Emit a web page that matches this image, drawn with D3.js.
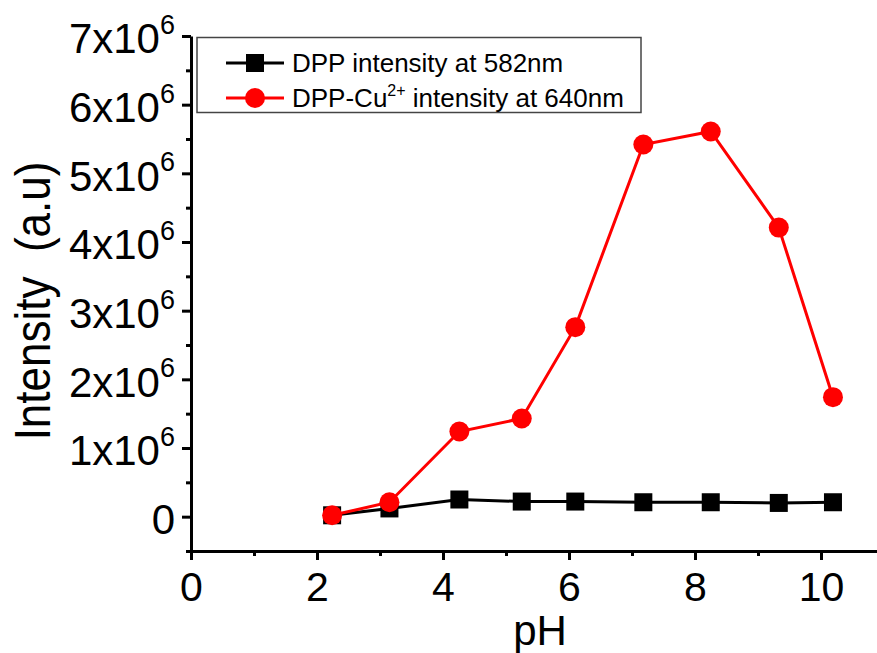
<!DOCTYPE html>
<html>
<head>
<meta charset="utf-8">
<script src="https://cdn.jsdelivr.net/npm/d3@7"></script>
<style>
  body { margin: 0; background: #fff; }
  svg { display: block; font-family: Arial, "Liberation Sans", sans-serif; }
</style>
</head>
<body>
<svg id="chart" width="877" height="653"></svg>
<script>
// pH values and intensities
const ph = [2.24, 3.15, 4.26, 5.25, 6.10, 7.18, 8.25, 9.33, 10.19];
const dppIntensity = [0.02e6, 0.12e6, 0.25e6, 0.22e6, 0.22e6, 0.21e6, 0.21e6, 0.20e6, 0.21e6];
const cuIntensity = [0.02e6, 0.21e6, 1.24e6, 1.43e6, 2.76e6, 5.42e6, 5.61e6, 4.21e6, 1.74e6];

const xTicks = [0, 2, 4, 6, 8, 10];
const xMinor = [1, 3, 5, 7, 9];
const yTicks = [0, 1e6, 2e6, 3e6, 4e6, 5e6, 6e6, 7e6];
const yMinor = [-0.5e6, 0.5e6, 1.5e6, 2.5e6, 3.5e6, 4.5e6, 5.5e6, 6.5e6];
const legendLabels = ['DPP intensity at 582nm', 'DPP-Cu'];

const svg = d3.select('#chart');

let x = d3.scaleLinear().domain([0, 11]).range([191, 884]),
  y = d3.scaleLinear().domain([-0.5e6, 7e6]).range([551, 36]);

// minor ticks first, majors on top
svg.append('g')
  .attr('transform', 'translate(0,551)')
  .call(d3.axisBottom(x).tickValues(xMinor).tickSize(5).tickFormat(''))
  .call(g => g.select('.domain').remove())
  .call(g => g.selectAll('line').attr('stroke', '#000').attr('stroke-width', 3));

svg.append('g')
  .attr('transform', 'translate(191,0)')
  .call(d3.axisLeft(y).tickValues(yMinor).tickSize(5).tickFormat(''))
  .call(g => g.select('.domain').remove())
  .call(g => g.selectAll('line').attr('stroke', '#000').attr('stroke-width', 3));

let xAxis = svg.append('g')
  .attr('transform', 'translate(0,551)')
  .call(d3.axisBottom(x).tickValues(xTicks).tickSize(9).tickSizeOuter(0).tickPadding(12));

xAxis.select('.domain').attr('stroke', '#000').attr('stroke-width', 3);
xAxis.selectAll('line').attr('stroke', '#000').attr('stroke-width', 3);
xAxis.selectAll('text')
  .attr('font-size', 41)
  .attr('font-family', 'Arial, "Liberation Sans", sans-serif')
  .attr('fill', '#000');

let yAxis = svg.append('g')
  .attr('transform', 'translate(191,0)')
  .call(d3.axisLeft(y).tickValues(yTicks).tickSize(9).tickSizeOuter(0).tickPadding(7));

yAxis.select('.domain').attr('stroke', '#000').attr('stroke-width', 3);
yAxis.selectAll('line').attr('stroke', '#000').attr('stroke-width', 3);
yAxis.selectAll('text')
  .attr('font-size', 42)
  .attr('font-family', 'Arial, "Liberation Sans", sans-serif')
  .attr('fill', '#000')
  .attr('dy', '0.4em')
  .each(function (d) {
    let t = d3.select(this).text(null);
    if (d === 0) {
      t.text('0');
      return;
    }
    t.append('tspan').text(`${d / 1e6}x10`);
    t.append('tspan').attr('font-size', 27).attr('dy', '-0.72em').text('6');
  });

// axis titles
svg.append('text')
  .attr('x', 540).attr('y', 645)
  .attr('text-anchor', 'middle')
  .attr('font-size', 42)
  .text('pH');

svg.append('text')
  .attr('transform', 'translate(50,301) rotate(-90) scale(1,1.12)')
  .attr('text-anchor', 'middle')
  .attr('font-size', 44)
  .attr('xml:space', 'preserve')
  .style('white-space', 'pre')
  .text('Intensity  (a.u)');

// series
let line = d3.line().x(d => x(d[0])).y(d => y(d[1]));
let dppData = ph.map((p, i) => [p, dppIntensity[i]]),
  cuData = ph.map((p, i) => [p, cuIntensity[i]]);

svg.append('path')
  .datum(dppData)
  .attr('d', line)
  .attr('fill', 'none')
  .attr('stroke', '#000')
  .attr('stroke-width', 3);

svg.append('g').selectAll('rect')
  .data(dppData)
  .enter().append('rect')
  .attr('x', d => x(d[0]) - 9)
  .attr('y', d => y(d[1]) - 9)
  .attr('width', 18)
  .attr('height', 18)
  .attr('fill', '#000');

svg.append('path')
  .datum(cuData)
  .attr('d', line)
  .attr('fill', 'none')
  .attr('stroke', '#ff0000')
  .attr('stroke-width', 3);

svg.append('g').selectAll('circle')
  .data(cuData)
  .enter().append('circle')
  .attr('cx', d => x(d[0]))
  .attr('cy', d => y(d[1]))
  .attr('r', 10)
  .attr('fill', '#ff0000');

// legend
let legend = svg.append('g');
legend.append('rect')
  .attr('x', 197).attr('y', 37.5)
  .attr('width', 444).attr('height', 75)
  .attr('fill', '#fff')
  .attr('stroke', '#444')
  .attr('stroke-width', 1.5);

legend.append('line')
  .attr('x1', 226).attr('x2', 284).attr('y1', 63).attr('y2', 63)
  .attr('stroke', '#000').attr('stroke-width', 3);
legend.append('rect')
  .attr('x', 246).attr('y', 54).attr('width', 18).attr('height', 18)
  .attr('fill', '#000');
legend.append('text')
  .attr('x', 292).attr('y', 72)
  .attr('font-size', 26)
  .text(legendLabels[0]);

legend.append('line')
  .attr('x1', 226).attr('x2', 284).attr('y1', 98).attr('y2', 98)
  .attr('stroke', '#ff0000').attr('stroke-width', 3);
legend.append('circle')
  .attr('cx', 255).attr('cy', 98).attr('r', 10)
  .attr('fill', '#ff0000');

let l2 = legend.append('text')
  .attr('x', 292).attr('y', 107)
  .attr('font-size', 26);
l2.append('tspan').text(legendLabels[1]);
l2.append('tspan').attr('font-size', 16).attr('dy', -11).text('2+');
l2.append('tspan').attr('dy', 11).text(' intensity at 640nm');
</script>
</body>
</html>
